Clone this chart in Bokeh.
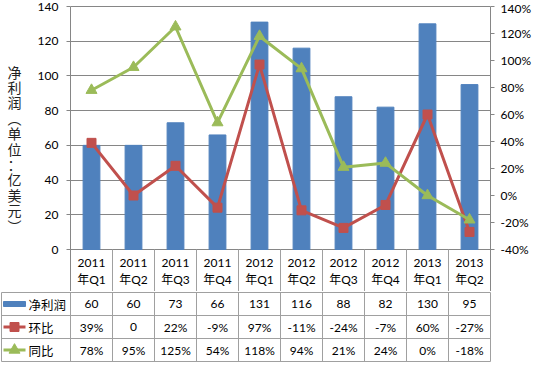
from bokeh.plotting import figure
from bokeh.models import Range1d, LinearAxis, FixedTicker, PrintfTickFormatter
from bokeh.embed import file_html
from bokeh.resources import INLINE
from bokeh.core.properties import value

# ---------------- data ----------------
categories = ["2011\n年Q1", "2011\n年Q2", "2011\n年Q3", "2011\n年Q4",
              "2012\n年Q1", "2012\n年Q2", "2012\n年Q3", "2012\n年Q4",
              "2013\n年Q1", "2013\n年Q2"]
profit = [60, 60, 73, 66, 131, 116, 88, 82, 130, 95]          # 净利润 (亿美元)
qoq = [39, 0, 22, -9, 97, -11, -24, -7, 60, -27]               # 环比 (%)
yoy = [78, 95, 125, 54, 118, 94, 21, 24, 0, -18]               # 同比 (%)
profit_labels = ["60", "60", "73", "66", "131", "116", "88", "82", "130", "95"]
qoq_labels = ["39%", "0", "22%", "-9%", "97%", "-11%", "-24%", "-7%", "60%", "-27%"]
yoy_labels = ["78%", "95%", "125%", "54%", "118%", "94%", "21%", "24%", "0%", "-18%"]
series_names = ["净利润", "环比", "同比"]
left_ticks = [0, 20, 40, 60, 80, 100, 120, 140]
right_ticks = [-40, -20, 0, 20, 40, 60, 80, 100, 120, 140]
y_label = "净利润︵单位：亿美元︶"

# ---------------- style / layout ----------------
BLUE = "#4F81BD"
RED = "#C0504D"
GREEN = "#9BBB59"
GRID = "#868686"
BORDER = "#A0A0A0"
NUM_FONT = "Lato, 'Noto Sans CJK SC', sans-serif"
CJK_FONT = "'Noto Sans CJK SC', sans-serif"

W = 533
FL = 70
FR = 43
n = len(categories)
PX = (W - FL - FR) / n
TOP = 5
CH = 243
HH = 42
RH = 23

years = [c.split("\n")[0] for c in categories]
quarters = [c.split("\n")[1] for c in categories]
xs = [i + 0.5 for i in range(n)]

ymin_l, ymax_l = left_ticks[0], left_ticks[-1]
rmin, rmax = right_ticks[0], right_ticks[-1]
lpp = (ymax_l - ymin_l) / CH
rpp = (rmax - rmin) / CH

# ---------------- chart ----------------
p = figure(width=W, height=TOP + 1 + CH + HH, title=None,
           x_range=Range1d(0, n), y_range=Range1d(ymin_l - HH * lpp, ymax_l + lpp),
           x_axis_location=None, toolbar_location=None, output_backend="svg",
           min_border_left=FL, min_border_right=FR, min_border_top=TOP, min_border_bottom=0)
p.extra_y_ranges = {"pct": Range1d(rmin - HH * rpp, rmax + rpp)}
p.outline_line_color = None
p.background_fill_color = "white"
p.border_fill_color = "white"

ya = p.yaxis[0]
ya.ticker = FixedTicker(ticks=left_ticks)
ya.bounds = (ymin_l - HH * lpp, ymax_l)
ya.axis_line_color = GRID
ya.major_tick_line_color = GRID
ya.major_tick_out = 4
ya.major_tick_in = 0
ya.minor_tick_line_color = None
ya.major_label_text_font = NUM_FONT
ya.major_label_text_font_size = "12px"
ya.major_label_text_color = "black"
ya.major_label_standoff = 8
ya.axis_label = "\n".join(y_label)
ya.axis_label_orientation = "horizontal"
ya.axis_label_text_font = CJK_FONT
ya.axis_label_text_font_size = "14px"
ya.axis_label_text_font_style = "normal"
ya.axis_label_text_color = "#222222"
ya.axis_label_text_line_height = 0.77
ya.axis_label_standoff = 13

ra = LinearAxis(y_range_name="pct", ticker=FixedTicker(ticks=right_ticks),
                formatter=PrintfTickFormatter(format="%d%%"),
                bounds=(rmin - HH * rpp, rmax))
ra.axis_line_color = GRID
ra.major_tick_line_color = GRID
ra.major_tick_out = 4
ra.major_tick_in = 0
ra.minor_tick_line_color = None
ra.major_label_text_font = NUM_FONT
ra.major_label_text_font_size = "12px"
ra.major_label_text_color = "black"
ra.major_label_standoff = 6
p.add_layout(ra, "right")

p.ygrid.ticker = FixedTicker(ticks=left_ticks)
p.ygrid.grid_line_color = GRID
p.xgrid.visible = False

p.vbar(x=xs, top=profit, bottom=0, width=0.4, color=BLUE)
p.line(xs, qoq, y_range_name="pct", color=RED, line_width=3)
p.scatter(xs, qoq, y_range_name="pct", marker="square", size=9, color=RED)
p.line(xs, yoy, y_range_name="pct", color=GREEN, line_width=3)
p.scatter(xs, yoy, y_range_name="pct", marker="triangle", size=11, color=GREEN)

# header row (category labels) beneath the x axis
bx = list(range(1, n))
p.segment(x0=bx, y0=[0] * len(bx), x1=bx, y1=[ymin_l - HH * lpp] * len(bx),
          line_color=BORDER, line_width=1)
p.text(x=xs, y=[-13 * lpp] * n, text=years, text_align="center", text_baseline="middle",
       text_font=value(NUM_FONT), text_font_size="12px", text_color="black")
p.text(x=xs, y=[-30 * lpp] * n, text=quarters, text_align="center", text_baseline="middle",
       text_font=value(NUM_FONT), text_font_size="12px", text_color="black")

# ---------------- data table ----------------
s = -FL / PX
t = figure(width=W, height=3 * RH + 2, title=None,
           x_range=Range1d(s, n + 1 / PX), y_range=Range1d(-1 / RH, 3 + 1 / RH),
           x_axis_location=None, y_axis_location=None, toolbar_location=None,
           output_backend="svg", min_border_left=0, min_border_right=FR - 1,
           min_border_top=0, min_border_bottom=0)
t.outline_line_color = None
t.grid.visible = False

lx = s + 1 / PX
for yv in [0, 1, 2, 3]:
    t.line([lx, n], [yv, yv], line_color=BORDER, line_width=1)
for xv in [lx] + list(range(0, n + 1)):
    t.line([xv, xv], [0, 3], line_color=BORDER, line_width=1)

for row, labels in enumerate([profit_labels, qoq_labels, yoy_labels]):
    t.text(x=xs, y=[2.5 - row] * n, text=labels, text_align="center", text_baseline="middle",
           text_font=value(NUM_FONT), text_font_size="12px", text_color="black")

t.text(x=[s + 28 / PX] * 3, y=[2.5, 1.5, 0.5], text=series_names, text_align="left",
       text_baseline="middle", text_font=value(CJK_FONT), text_font_size="12.5px",
       text_color="black")
t.quad(left=[s + 3 / PX], right=[s + 25 / PX], bottom=[2.5 - 2.5 / RH], top=[2.5 + 2.5 / RH],
       color=BLUE)
t.line([s + 3 / PX, s + 25 / PX], [1.5, 1.5], color=RED, line_width=3)
t.scatter([s + 14 / PX], [1.5], marker="square", size=9, color=RED)
t.line([s + 3 / PX, s + 25 / PX], [0.5, 0.5], color=GREEN, line_width=3)
t.scatter([s + 14 / PX], [0.5], marker="triangle", size=11, color=GREEN)

open("out.html", "w").write(file_html([p, t], INLINE))
